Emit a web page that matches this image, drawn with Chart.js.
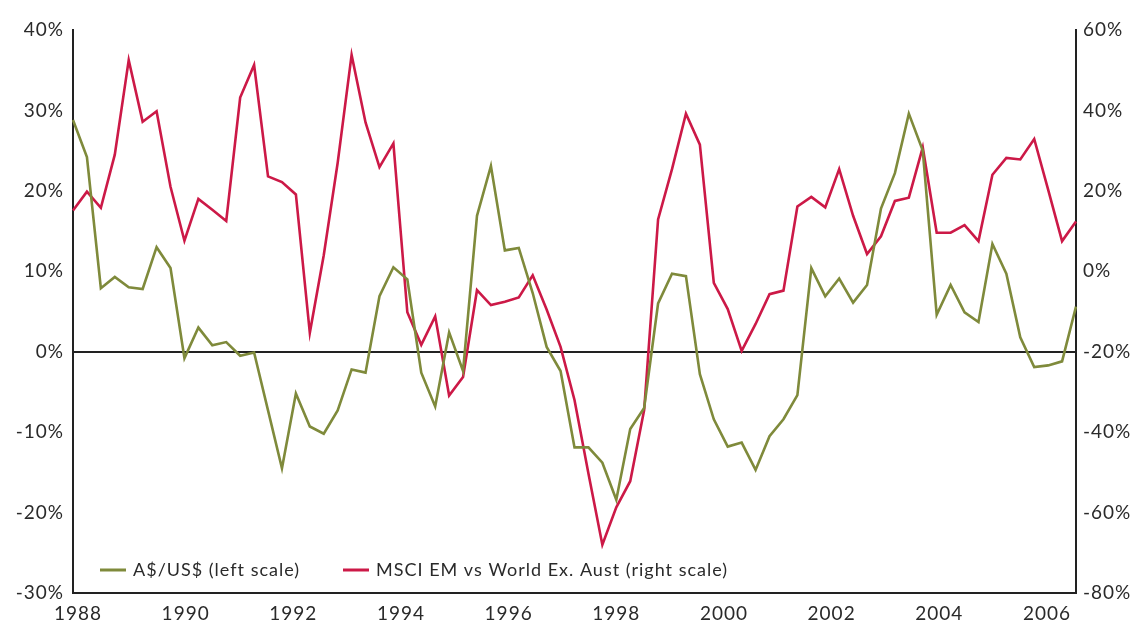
<!DOCTYPE html>
<html>
<head>
<meta charset="utf-8">
<script src="https://cdn.jsdelivr.net/npm/chart.js@4.4.1/dist/chart.umd.min.js"></script>
<style>
  html, body { margin: 0; padding: 0; background: #fff; }
  #wrap { width: 1143px; height: 632px; }
</style>
</head>
<body>
<div id="wrap"><canvas id="chart" width="1143" height="632"></canvas></div>
<script>
// quarterly, 1988 Q1 .. 2006 Q1
const firstYear = 1988;
const quarters = [];
for (let i = 0; i < 73; i++) quarters.push((firstYear + Math.floor(i / 4)) + ' Q' + (i % 4 + 1));

// A$/US$ annual change, % (left scale)
const audUsd = [
    28.8, 24.2, 7.9, 9.3, 8.0, 7.8, 13.0, 10.4, -0.8, 3.0, 0.8, 1.2,
    -0.5, -0.1, -7.3, -14.5, -5.2, -9.3, -10.2, -7.3, -2.2, -2.6, 6.9, 10.5,
    9.0, -2.6, -6.8, 2.4, -2.4, 16.9, 23.1, 12.6, 12.9, 7.3, 0.6, -2.4,
    -11.9, -11.9, -13.8, -18.4, -9.6, -7.0, 6.0, 9.7, 9.4, -2.8, -8.4, -11.8,
    -11.3, -14.7, -10.5, -8.4, -5.4, 10.4, 6.9, 9.1, 6.1, 8.3, 17.8, 22.2,
    29.6, 25.0, 4.6, 8.3, 4.9, 3.7, 13.4, 9.7, 1.8, -1.9, -1.7, -1.2, 5.6
];

// MSCI EM vs World ex Aust relative return, % (right scale)
const msciEm = [
    15.1, 19.8, 15.8, 29.0, 52.5, 37.2, 39.8, 21.0, 7.6, 18.0, 15.3, 12.5,
    43.2, 51.3, 23.6, 22.2, 19.1, -15.3, 4.0, 27.0, 53.8, 37.0, 25.9, 31.8,
    -10.2, -18.3, -11.2, -30.9, -26.3, -4.7, -8.4, -7.6, -6.5, -1.0, -9.5, -18.8,
    -32.0, -50.3, -68.0, -58.7, -52.2, -34.5, 12.9, 25.4, 39.2, 31.5, -2.9, -9.4,
    -19.8, -13.1, -5.7, -4.8, 16.1, 18.5, 15.9, 25.4, 13.8, 4.3, 8.7, 17.5,
    18.3, 30.8, 9.6, 9.6, 11.5, 7.5, 24.0, 28.2, 27.8, 32.9, 20.3, 7.5, 12.4
];

const yearTicks = [1988, 1990, 1992, 1994, 1996, 1998, 2000, 2002, 2004, 2006];

const seriesNames = ['A$/US$ (left scale)', 'MSCI EM vs World Ex. Aust (right scale)'];
const GREEN = '#7f8a3b';
const RED = '#cc1947';
const AXIS = '#222';
const TEXT = '#2a2a2a';
const FONT = 'Lato, "Open Sans", sans-serif';

// the original lettering is a wide geometric face, so space the letters out a bit
const wideText = {
    id: 'wideText',
    beforeDraw(chart) { chart.ctx.letterSpacing = '1px'; }
};

// legend sits inside the plot, bottom left
const insideLegend = {
    id: 'insideLegend',
    afterDraw(chart) {
        const { ctx, chartArea } = chart;
        const y = chartArea.bottom - 23;
        const starts = [chartArea.left + 27, chartArea.left + 270];
        ctx.save();
        ctx.font = '18px ' + FONT;
        ctx.letterSpacing = '1px';
        ctx.textBaseline = 'middle';
        chart.data.datasets.forEach((ds, i) => {
            const x = starts[i];
            ctx.strokeStyle = ds.borderColor;
            ctx.lineWidth = 3;
            ctx.beginPath();
            ctx.moveTo(x, y);
            ctx.lineTo(x + 26, y);
            ctx.stroke();
            ctx.fillStyle = TEXT;
            ctx.fillText(ds.label, x + 33, y);
        });
        ctx.restore();
    }
};

new Chart(document.getElementById('chart'), {
    type: 'line',
    data: {
        labels: quarters,
        datasets: [
            { label: seriesNames[0], data: audUsd, yAxisID: 'yLeft', borderColor: GREEN, borderWidth: 2.6, pointRadius: 0, tension: 0 },
            { label: seriesNames[1], data: msciEm, yAxisID: 'yRight', borderColor: RED, borderWidth: 2.6, pointRadius: 0, tension: 0 }
        ]
    },
    options: {
        responsive: false,
        animation: false,
        layout: { padding: { top: 30, right: 0, bottom: 0, left: 0 } },
        plugins: { legend: { display: false }, tooltip: { enabled: false } },
        scales: {
            x: { type: 'category', display: false, offset: false },
            years: {
                type: 'linear', position: 'bottom', min: 1987.907, max: 2006.54,
                afterBuildTicks: (scale) => { scale.ticks = yearTicks.map(v => ({ value: v })); },
                afterFit: (scale) => { scale.height = 39; },
                grid: { display: false, drawTicks: false },
                border: { display: true, color: AXIS, width: 2 },
                ticks: { color: TEXT, padding: 9, font: { family: FONT, size: 19 }, callback: v => String(v) }
            },
            yLeft: {
                position: 'left', min: -30, max: 40,
                afterFit: (scale) => { scale.width = 73; },
                grid: { drawTicks: false, color: c => c.tick.value === 0 ? AXIS : 'transparent', lineWidth: 2 },
                border: { display: true, color: AXIS, width: 2 },
                ticks: { stepSize: 10, color: TEXT, padding: 9, font: { family: FONT, size: 19 }, callback: v => v + '%' }
            },
            yRight: {
                position: 'right', min: -80, max: 60,
                afterFit: (scale) => { scale.width = 67; },
                grid: { display: false, drawTicks: false },
                border: { display: true, color: AXIS, width: 2 },
                ticks: { stepSize: 20, color: TEXT, padding: 7, font: { family: FONT, size: 19 }, callback: v => v + '%' }
            }
        }
    },
    plugins: [wideText, insideLegend]
});
</script>
</body>
</html>
